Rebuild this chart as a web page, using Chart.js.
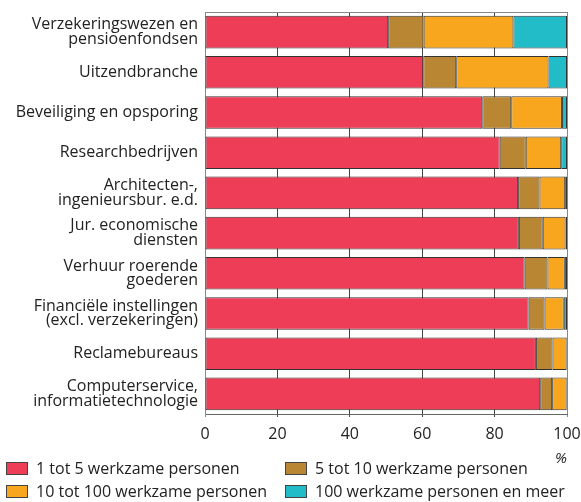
<!DOCTYPE html>
<html>
<head>
<meta charset="utf-8">
<script src="https://cdn.jsdelivr.net/npm/chart.js@4"></script>
<style>
  html, body { margin: 0; padding: 0; background: #fff; }
  #wrap { position: relative; width: 581px; height: 502px; font-family: "Open Sans", "Noto Sans", sans-serif; }
  #legend { position: absolute; left: 0; top: 457px; width: 581px; font-size: 16px; line-height: 22px; color: #222; }
  .item { position: absolute; display: flex; align-items: center; white-space: nowrap; }
  .box { width: 20px; height: 11px; border: 1px solid #444; margin-right: 8px; }
</style>
</head>
<body>
<div id="wrap">
  <canvas id="c" width="581" height="502"></canvas>
  <div id="legend"></div>
</div>
<script>
// Bedrijven naar grootteklasse (werkzame personen), % per branche

const categories = [
  ['Verzekeringswezen en', 'pensioenfondsen'],
  'Uitzendbranche',
  'Beveiliging en opsporing',
  'Researchbedrijven',
  ['Architecten-,', 'ingenieursbur. e.d.'],
  ['Jur. economische', 'diensten'],
  ['Verhuur roerende', 'goederen'],
  ['Financiële instellingen', '(excl. verzekeringen)'],
  'Reclamebureaus',
  ['Computerservice,', 'informatietechnologie']
];

const seriesNames = [
  '1 tot 5 werkzame personen',
  '5 tot 10 werkzame personen',
  '10 tot 100 werkzame personen',
  '100 werkzame personen en meer'
];

const size1to5    = [50.6, 60.3, 76.6, 81.4, 86.5, 86.7, 88.3, 89.4, 91.4, 92.6];
const size5to10   = [ 9.8,  9.1,  8.0,  7.2,  5.9,  6.6,  6.3,  4.4,  4.6,  3.3];
const size10to100 = [24.8, 25.5, 14.0,  9.8,  7.1,  6.3,  4.8,  5.3,  3.9,  4.0];
const size100plus = [14.8,  5.1,  1.4,  1.6,  0.5,  0.4,  0.6,  0.9,  0.1,  0.1];

const xTicks = [0, 20, 40, 60, 80, 100];

const colors = ['#ee3d57', '#b98733', '#f7a61e', '#21bcc8'];
const seriesValues = [size1to5, size5to10, size10to100, size100plus];

// plot frame (top + right edges)
const framePlugin = {
  id: 'frame',
  afterDraw(chart) {
    const a = chart.chartArea, ctx = chart.ctx;
    ctx.save();
    ctx.strokeStyle = '#888';
    ctx.lineWidth = 1;
    ctx.beginPath();
    ctx.moveTo(a.left, a.top + 0.5);
    ctx.lineTo(a.right + 0.5, a.top + 0.5);
    ctx.lineTo(a.right + 0.5, a.bottom);
    ctx.stroke();
    ctx.restore();
  }
};

const fam = '"Open Sans", "Noto Sans", sans-serif';

new Chart(document.getElementById('c'), {
  type: 'bar',
  data: {
    labels: categories,
    datasets: seriesNames.map((name, i) => ({
      label: name,
      data: seriesValues[i],
      backgroundColor: colors[i],
      borderColor: '#333',
      borderWidth: 1,
      borderSkipped: false,
      barPercentage: 0.81,
      categoryPercentage: 1.0
    }))
  },
  options: {
    indexAxis: 'y',
    responsive: false,
    animation: false,
    layout: { padding: { left: 0, right: 14, top: 12, bottom: 34 } },
    plugins: { legend: { display: false }, tooltip: { enabled: false } },
    scales: {
      x: {
        stacked: true,
        min: 0, max: 100,
        afterBuildTicks: s => { s.ticks = xTicks.map(v => ({ value: v })); },
        afterFit: s => { s.height = 54; s.paddingLeft = 0; s.paddingRight = 0; },
        grid: {
          color: c => (c.tick && (c.tick.value === 0 || c.tick.value === 100)) ? '#888' : '#444',
          tickLength: 3
        },
        border: { color: '#666' },
        ticks: { font: { family: fam, size: 16 }, color: '#222', padding: 8, maxRotation: 0 },
        title: { display: true, text: '%', align: 'end', font: { family: fam, size: 15, style: 'italic' }, color: '#222', padding: { top: 2, bottom: 0 } }
      },
      y: {
        stacked: true,
        afterFit: s => { s.width = 205; s.paddingTop = 0; s.paddingBottom = 0; },
        grid: { display: false, drawTicks: false },
        border: { color: '#888' },
        ticks: { font: { family: fam, size: 16, lineHeight: 0.92 }, color: '#222', padding: 7 }
      }
    }
  },
  plugins: [framePlugin]
});

// HTML legend, two columns
const legend = document.getElementById('legend');
const pos = [[6, 0], [285, 0], [6, 23], [285, 23]];
seriesNames.forEach((name, i) => {
  const it = document.createElement('div');
  it.className = 'item';
  it.style.left = pos[i][0] + 'px';
  it.style.top = pos[i][1] + 'px';
  it.innerHTML = '<span class="box" style="background:' + colors[i] + '"></span><span>' + name + '</span>';
  legend.appendChild(it);
});
</script>
</body>
</html>
